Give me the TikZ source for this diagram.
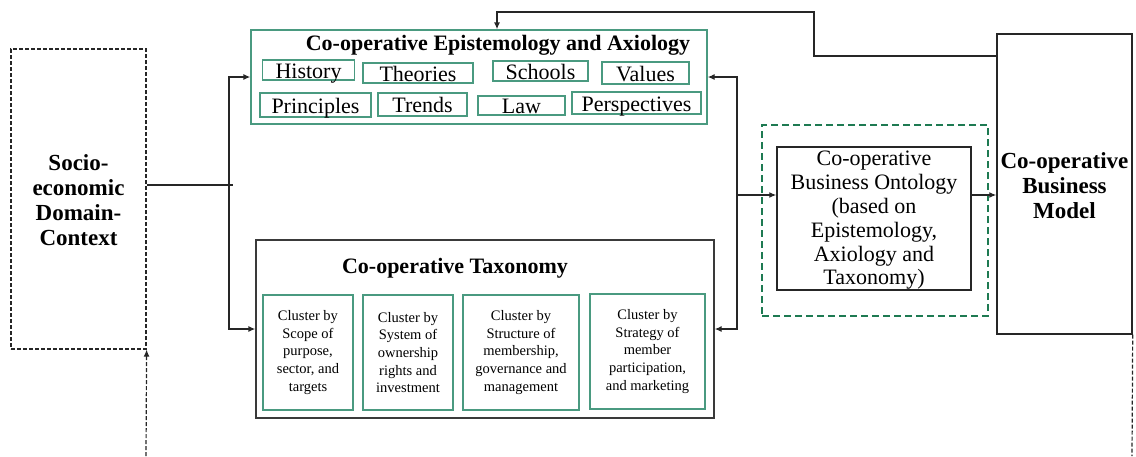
\documentclass[tikz,border=0pt]{standalone}
\usepackage{fontspec}
\setmainfont{Liberation Serif}
\usetikzlibrary{arrows.meta,calc}
\definecolor{itemgreen}{HTML}{4A9A80}
\definecolor{dashgreen}{HTML}{1E7A52}
\definecolor{taxgray}{HTML}{3A3A3A}
\begin{document}
\begin{tikzpicture}[x=1pt,y=-1pt,
  conn/.style={line width=1.3pt,draw=black!85},
  arr/.style={conn,-{Latex[length=7pt,width=6pt]}},
  bigbold/.style={font=\fontsize{22}{25}\selectfont\bfseries,align=center},
  sidebold/.style={font=\fontsize{23}{25}\selectfont\bfseries,align=center},
  item/.style={draw=itemgreen,line width=1.3pt,inner sep=0pt,font=\fontsize{22}{24}\selectfont,text height=17pt,text depth=1pt},
  cluster/.style={draw=itemgreen,line width=1.3pt,minimum width=#1,minimum height=115pt,inner sep=0pt,align=center,font=\fontsize{14.5}{17.6}\selectfont},
  cluster/.default=90pt]
\useasboundingbox (0,0) rectangle (1136,456);

% context box on the left
\node[draw=black!85,line width=1.2pt,dash pattern=on 4pt off 2pt,minimum width=135pt,minimum height=300pt,inner sep=0pt] (ctx) at (78.5,199) {};
\node[sidebold] (ctxlabel) at (78.5,200) {Socio-\\economic\\Domain-\\Context};

% epistemology and axiology group
\node[draw=itemgreen,line width=1.3pt,minimum width=456pt,minimum height=94pt,inner sep=0pt] (epi) at (479,77) {};
\node[bigbold] (epititle) at (498,45) {Co-operative Epistemology and Axiology};
\node[item,minimum width=92pt,minimum height=20pt] (history) at (308.5,70) {History};
\node[item,minimum width=110pt,minimum height=20pt] (theories) at (418,73) {Theories};
\node[item,minimum width=95pt,minimum height=20pt] (schools) at (540.5,71) {Schools};
\node[item,minimum width=87pt,minimum height=22pt] (values) at (645.5,73) {Values};
\node[item,minimum width=111pt,minimum height=24pt] (principles) at (315.5,105) {Principles};
\node[item,minimum width=89pt,minimum height=23pt] (trends) at (422.5,104.5) {Trends};
\node[item,minimum width=87pt,minimum height=19pt] (law) at (521.5,105.5) {Law};
\node[item,minimum width=129pt,minimum height=22pt] (persp) at (636.5,103) {Perspectives};

% taxonomy group
\node[draw=taxgray,line width=1.3pt,minimum width=458pt,minimum height=178pt,inner sep=0pt] (tax) at (485,329) {};
\node[bigbold] (taxtitle) at (455,268) {Co-operative Taxonomy};
\node[cluster] (c1) at (308,352.5) {Cluster by\\Scope of\\purpose,\\sector, and\\targets};
\node[cluster] (c2) at (408,352.5) {Cluster by\\System of\\ownership\\rights and\\investment};
\node[cluster=116pt] (c3) at (521,352.5) {Cluster by\\Structure of\\membership,\\governance and\\management};
\node[cluster=115pt] (c4) at (647.5,351.5) {Cluster by\\Strategy of\\member\\participation,\\and marketing};

% ontology
\node[draw=dashgreen,line width=1.8pt,dash pattern=on 7pt off 4pt,minimum width=226pt,minimum height=191pt,inner sep=0pt] (ontoframe) at (875,220.5) {};
\node[draw=black!85,line width=1.4pt,minimum width=194pt,minimum height=143pt,inner sep=0pt] (onto) at (874,218.5) {};
\node[align=center,font=\fontsize{22}{23.8}\selectfont] (ontolabel) at (874,220.5) {Co-operative\\Business Ontology\\(based on\\Epistemology,\\Axiology and\\Taxonomy)};

% business model
\node[draw=black!85,line width=1.4pt,minimum width=135pt,minimum height=300pt,inner sep=0pt] (bm) at (1064.5,184) {};
\node[sidebold] (bmlabel) at (1064.5,186) {Co-operative\\Business\\Model};

% junctions
\coordinate (jL) at (229,185);
\coordinate (jLend) at (233,185);
\coordinate (jR) at (737,195);
\coordinate (fbA) at (814,56);
\coordinate (fbB) at (497,12);
\coordinate (bottomL) at (146,456);
\coordinate (bottomR) at (1132,456);

% context feeds both groups
\draw[conn] (ctx.east |- jL) -- (jLend);
\draw[arr] (jL) |- (epi.west);
\draw[arr] (jL) |- (tax.west);

% both groups feed the ontology
\draw[arr] (jR) |- (epi.east);
\draw[arr] (jR) |- (tax.east);
\draw[arr] (jR) -- (onto.west |- jR);
\draw[arr] (onto.east |- jR) -- (bm.west |- jR);

% feedback from the model
\draw[arr] (bm.west |- fbA) -- (fbA) |- (fbB) -- (epi.north -| fbB);

% loop back to the context (continues below)
\draw[conn,line width=1.2pt,dash pattern=on 4pt off 2pt] (bm.south east) -- (bottomR);
\draw[arr,line width=1.2pt,dash pattern=on 4pt off 2pt] (bottomL) -- (ctx.south east);
\end{tikzpicture}
\end{document}
